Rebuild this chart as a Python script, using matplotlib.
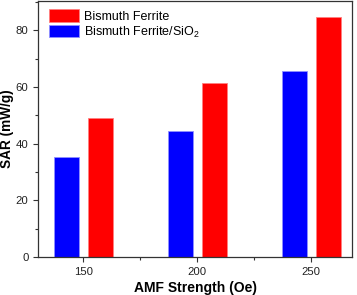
import matplotlib
matplotlib.use("Agg")
import matplotlib.pyplot as plt
import numpy as np
from matplotlib.ticker import MultipleLocator

# data
fields = [150, 200, 250]
sar_bfo = [49.0, 61.5, 84.7]
sar_bfo_sio2 = [35.3, 44.6, 65.6]

plt.rcParams['font.family'] = ['Liberation Sans', 'DejaVu Sans']
plt.rcParams['mathtext.fontset'] = 'custom'
plt.rcParams['mathtext.rm'] = 'Liberation Sans'

fig = plt.figure(figsize=(3.57, 2.95), dpi=100)
ax = fig.add_axes([0.1056, 0.128, 0.8814, 0.869])

x = np.array(fields, dtype=float)
w = 11
ax.bar(x + 7.4, sar_bfo, width=w, color='#ff0000', edgecolor='#ff8080',
       linewidth=0.6, label='Bismuth Ferrite', zorder=2)
ax.bar(x - 7.4, sar_bfo_sio2, width=w, color='#0000ff', edgecolor='#9090ff',
       linewidth=0.6, label='Bismuth Ferrite/SiO$_2$', zorder=2)

ax.set_xlim(130, 268)
ax.set_ylim(0, 90.3)
ax.set_xticks(fields)
ax.xaxis.set_minor_locator(MultipleLocator(25))
ax.yaxis.set_major_locator(MultipleLocator(20))
ax.yaxis.set_minor_locator(MultipleLocator(10))
ax.tick_params(which='both', direction='out', labelsize=8.2, color='#333333',
               labelcolor='#222222', width=0.8, pad=3)
ax.tick_params(which='major', length=3.7)
ax.tick_params(which='minor', length=2.2)
for s in ax.spines.values():
    s.set_linewidth(0.9)
    s.set_color('#333333')

ax.set_xlabel('AMF Strength (Oe)', fontsize=10, fontweight='bold', labelpad=3.5)
ax.set_ylabel('SAR (mW/g)', fontsize=9.8, fontweight='bold', labelpad=1.2)

ax.legend(loc='upper left', bbox_to_anchor=(0.035, 0.968), frameon=False,
          fontsize=9, handlelength=2.4, handleheight=1.16, labelspacing=0.15,
          handletextpad=0.4, borderpad=0, borderaxespad=0)

fig.savefig('out.png', dpi=100)
